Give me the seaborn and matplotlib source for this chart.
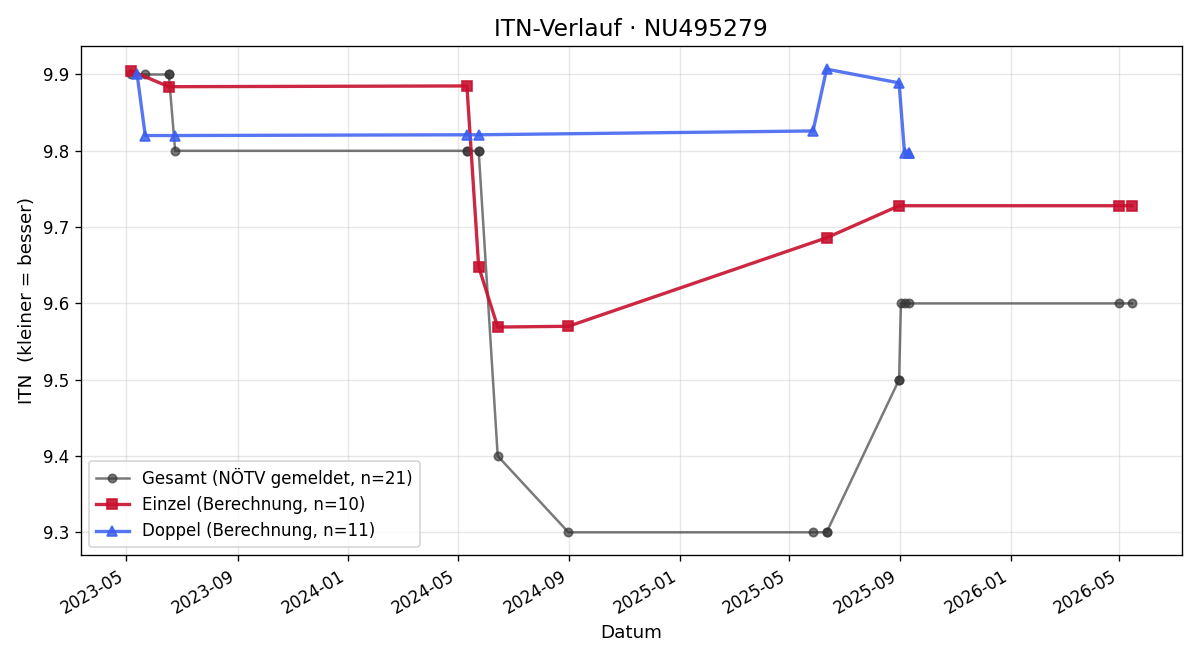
import pandas as pd
import seaborn as sns
import matplotlib
matplotlib.use("Agg")
import matplotlib.pyplot as plt
import matplotlib.dates as mdates

# Daten
gesamt_datum = ["2023-05-06", "2023-05-22", "2023-06-17", "2023-06-17", "2023-06-24",
                "2024-05-11", "2024-05-11", "2024-05-24", "2024-05-24", "2024-06-14",
                "2024-08-31", "2025-05-28", "2025-06-12", "2025-06-12", "2025-08-31",
                "2025-08-31", "2025-09-02", "2025-09-06", "2025-09-11", "2026-05-01",
                "2026-05-15"]
gesamt_itn = [9.9, 9.9, 9.9, 9.9, 9.8,
              9.8, 9.8, 9.8, 9.8, 9.4,
              9.3, 9.3, 9.3, 9.3, 9.5,
              9.5, 9.6, 9.6, 9.6, 9.6,
              9.6]

einzel_datum = ["2023-05-06", "2023-06-17", "2024-05-11", "2024-05-24", "2024-06-14",
                "2024-08-31", "2025-06-12", "2025-08-31", "2026-05-01", "2026-05-15"]
einzel_itn = [9.905, 9.884, 9.885, 9.648, 9.569, 9.570, 9.686, 9.728, 9.728, 9.728]

doppel_datum = ["2023-05-13", "2023-05-22", "2023-06-24", "2024-05-11", "2024-05-24",
                "2025-05-28", "2025-06-12", "2025-08-31", "2025-09-06", "2025-09-11",
                "2025-09-11"]
doppel_itn = [9.900, 9.820, 9.820, 9.821, 9.821, 9.826, 9.907, 9.889, 9.797, 9.797, 9.797]

df_g = pd.DataFrame({"Datum": pd.to_datetime(gesamt_datum), "ITN": gesamt_itn})
df_e = pd.DataFrame({"Datum": pd.to_datetime(einzel_datum), "ITN": einzel_itn})
df_d = pd.DataFrame({"Datum": pd.to_datetime(doppel_datum), "ITN": doppel_itn})

fig, ax = plt.subplots(figsize=(10, 5.5), dpi=120)

sns.lineplot(data=df_g, x="Datum", y="ITN", ax=ax, estimator=None, sort=False,
             color="#333333", alpha=0.65, linewidth=1.5, marker="o", markersize=5,
             markeredgecolor="#333333", markeredgewidth=1,
             label=f"Gesamt (NÖTV gemeldet, n={len(df_g)})")
sns.lineplot(data=df_e, x="Datum", y="ITN", ax=ax, estimator=None, sort=False,
             color="#c8102e", alpha=0.9, linewidth=2, marker="s", markersize=6,
             markeredgecolor="#c8102e", markeredgewidth=1,
             label=f"Einzel (Berechnung, n={len(df_e)})")
sns.lineplot(data=df_d, x="Datum", y="ITN", ax=ax, estimator=None, sort=False,
             color="#3a5ef0", alpha=0.85, linewidth=2, marker="^", markersize=6,
             markeredgecolor="#3a5ef0", markeredgewidth=1,
             label=f"Doppel (Berechnung, n={len(df_d)})")

ax.set_title("ITN-Verlauf · NU495279", fontsize=14)
ax.set_xlabel("Datum", fontsize=11)
ax.set_ylabel("ITN  (kleiner = besser)", fontsize=11)
ax.grid(True, alpha=0.3)
ax.xaxis.set_major_locator(mdates.MonthLocator(bymonth=[1, 5, 9]))
ax.xaxis.set_major_formatter(mdates.DateFormatter("%Y-%m"))
ax.tick_params(labelsize=10)
ax.legend(loc="lower left", fontsize=10)
fig.autofmt_xdate()

plt.tight_layout()
plt.savefig("out.png")
